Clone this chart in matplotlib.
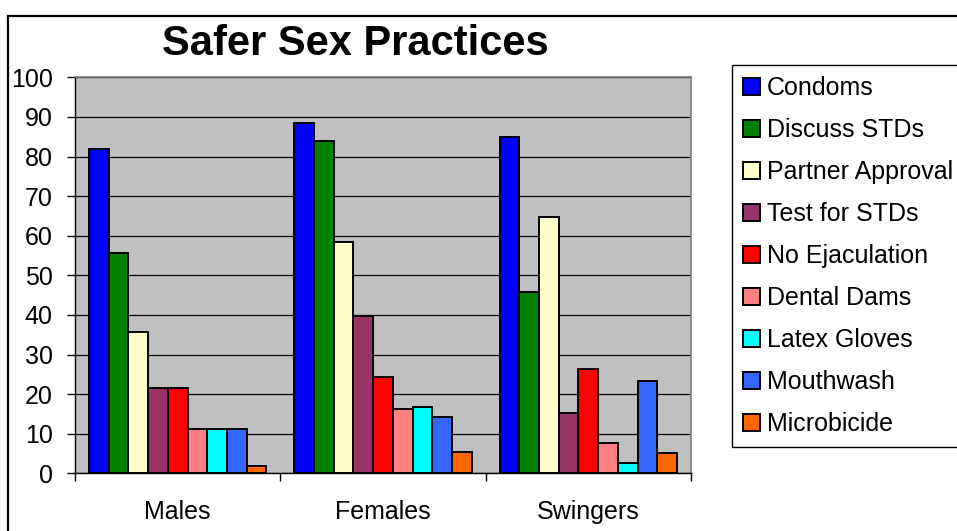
import matplotlib
matplotlib.use('Agg')
import matplotlib.pyplot as plt
from matplotlib.lines import Line2D
import numpy as np

plt.rcParams['font.family'] = ['Liberation Sans', 'DejaVu Sans']

# ---- data ----
groups = ['Males', 'Females', 'Swingers']
practices = ['Condoms', 'Discuss STDs', 'Partner Approval', 'Test for STDs',
             'No Ejaculation', 'Dental Dams', 'Latex Gloves', 'Mouthwash', 'Microbicide']
condoms        = [81.8, 88.4, 84.8]
discuss_stds   = [55.6, 83.9, 45.9]
partner_appr   = [35.8, 58.5, 64.6]
test_stds      = [21.6, 39.8, 15.2]
no_ejaculation = [21.6, 24.2, 26.3]
dental_dams    = [11.1, 16.2, 7.6]
latex_gloves   = [11.1, 16.7, 2.5]
mouthwash      = [11.1, 14.1, 23.3]
microbicide    = [1.9, 5.5, 5.1]
series = [condoms, discuss_stds, partner_appr, test_stds, no_ejaculation,
          dental_dams, latex_gloves, mouthwash, microbicide]
colors = ['#0000FF', '#008000', '#FFFFCC', '#993366', '#FF0000',
          '#FF8080', '#00FFFF', '#3366FF', '#FF6600']

W, H = 957, 531
fig = plt.figure(figsize=(W / 100, H / 100), dpi=100)
ax = fig.add_axes([75 / W, 1 - 473.3 / H, (691 - 75) / W, (473.3 - 77.3) / H])
ax.set_facecolor('#C0C0C0')

x = np.arange(len(groups))
bw = 0.096
handles = []
for j, (vals, c) in enumerate(zip(series, colors)):
    b = ax.bar(x + (j - 4) * bw, vals, width=bw, color=c, edgecolor='black',
               linewidth=1.4, zorder=3)
    handles.append(b)

ax.set_xlim(-0.5, 2.5)
ax.set_ylim(0, 100)
ax.set_yticks(range(0, 101, 10))
ax.yaxis.grid(True, color='black', linewidth=0.9)
ax.set_axisbelow(True)

ax.set_xticks(x)
ax.set_xticklabels(groups, fontsize=18)
ax.set_xticks([-0.5, 0.5, 1.5, 2.5], minor=True)
ax.tick_params(axis='x', which='major', length=0, pad=19)
ax.tick_params(axis='x', which='minor', length=5.5, width=1, direction='out')
ax.tick_params(axis='y', labelsize=18, length=6, width=1, pad=10, direction='out')

for s in ['top', 'right']:
    ax.spines[s].set_color('#808080')
    ax.spines[s].set_linewidth(1.2)
for s in ['left', 'bottom']:
    ax.spines[s].set_color('black')
    ax.spines[s].set_linewidth(1)

fig.text(355 / W, 1 - 44 / H, 'Safer Sex Practices', fontsize=30, fontweight='bold',
         ha='center', va='center')

leg = fig.legend(handles, practices, loc='upper left',
                 bbox_to_anchor=(732 / W, 1 - 65 / H), fontsize=18,
                 handlelength=0.65, handleheight=0.65, handletextpad=0.3,
                 labelspacing=0.72, borderpad=0.45, borderaxespad=0,
                 frameon=True, fancybox=False, framealpha=1, edgecolor='black')
leg.get_frame().set_linewidth(1)
for h in leg.legend_handles:
    h.set_linewidth(1.4)

# chart border (cut off at right and bottom edges)
fig.add_artist(Line2D([8 / W, 1.01], [1 - 16 / H, 1 - 16 / H], color='black', linewidth=1.6))
fig.add_artist(Line2D([8 / W, 8 / W], [-0.01, 1 - 16 / H], color='black', linewidth=1.6))

fig.savefig('out.png', dpi=100)
